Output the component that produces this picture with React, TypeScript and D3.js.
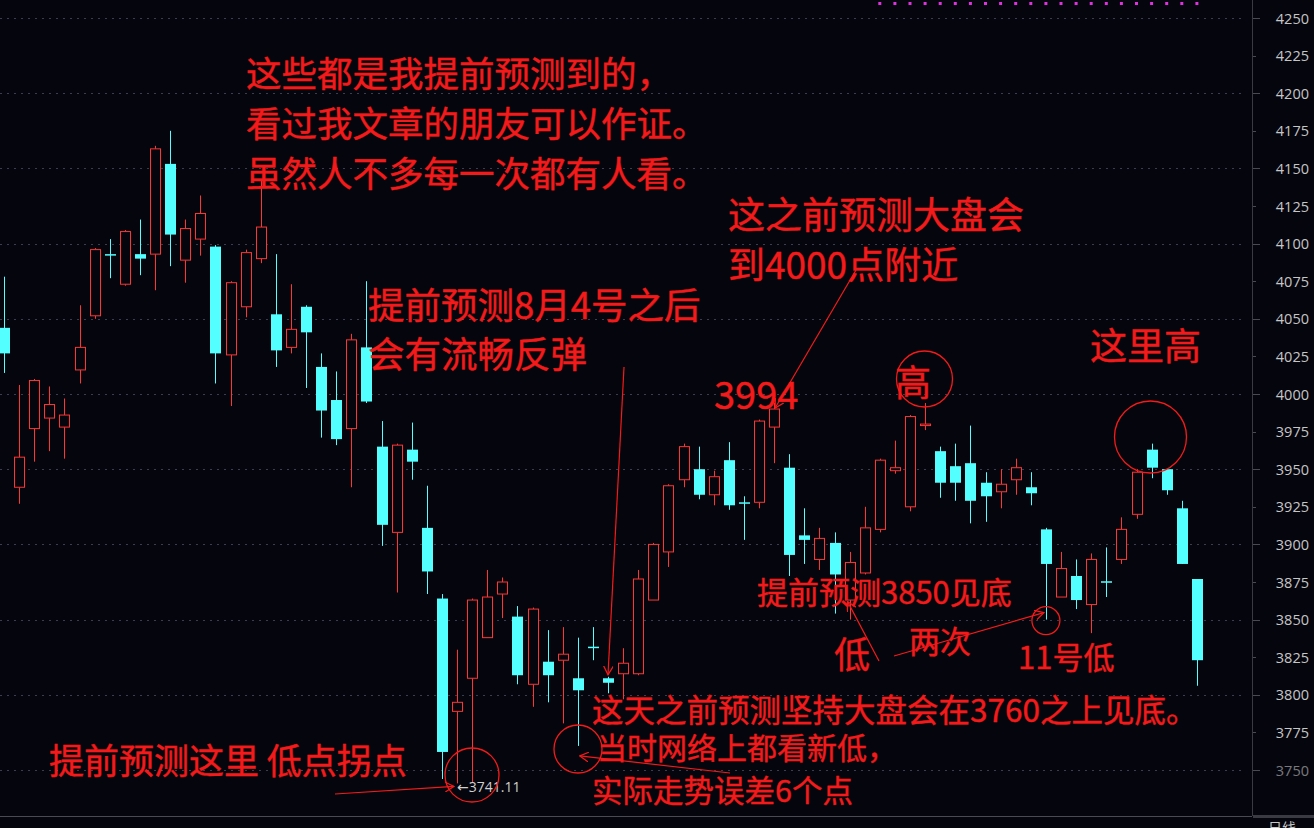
import React from "react";
import * as d3 from "d3";

// ---- data ----
const opens = [4044, 3938, 3977, 3984, 3978, 4016, 4052, 4093, 4073, 4093, 4093, 4153, 4089, 4103, 4098, 4026, 4058, 4090, 4053, 4031,
  4058, 4018, 3996, 3977, 4031, 3965, 3908, 3963, 3911, 3864, 3789, 3811, 3838, 3867, 3852, 3807, 3822, 3823, 3811, 3832,
  3811, 3814, 3814, 3863, 3895, 3943, 3950, 3933, 3956, 3928, 3928, 3978, 3951, 3906, 3890, 3901, 3863, 3881, 3910, 3949,
  3925, 3979, 3962, 3952, 3954, 3941, 3935, 3943, 3938, 3910, 3865, 3879, 3860, 3875.5, 3890, 3920, 3963, 3950, 3924, 3877];
const highs = [4078, 4006, 4010, 4005, 3997, 4059, 4097, 4103, 4109, 4116, 4165, 4175, 4116, 4132, 4099, 4075, 4096, 4142, 4093, 4073,
  4059, 4027, 4015, 4040, 4075, 3982, 3967, 3981, 3939, 3867, 3830, 3864, 3883, 3878, 3859, 3858, 3843, 3845, 3838, 3845,
  3812, 3831, 3883, 3901, 3940, 3967, 3965, 3949, 3968, 3932, 3983, 3994, 3960, 3924, 3911, 3908, 3895, 3925, 3957, 3969,
  3986, 3994, 3965, 3967, 3979, 3948, 3950, 3957, 3948, 3911, 3895, 3890, 3894, 3898, 3918, 3950, 3967, 3950, 3929, 3877];
const lows = [4014, 3927, 3955, 3962, 3957, 4007, 4050, 4077, 4072, 4079, 4069, 4085, 4074, 4092, 4007, 3992, 4051, 4087, 4018, 4027,
  4004, 3971, 3966, 3938, 3994, 3899, 3868, 3943, 3867, 3744, 3741.11, 3742, 3838, 3851, 3807, 3792, 3795, 3781, 3766, 3823,
  3801, 3797, 3813, 3863, 3885, 3938, 3930, 3926, 3923, 3903, 3924, 3954, 3879, 3887, 3883, 3854, 3850, 3880, 3908, 3947,
  3922, 3976, 3931, 3929, 3914, 3915, 3924, 3933, 3926, 3850, 3865, 3857, 3841, 3865, 3887, 3917, 3944, 3933, 3887, 3806];
const closes = [4027, 3958, 4009, 3993, 3986, 4031, 4096, 4092, 4108, 4090, 4163, 4106, 4110, 4120, 4027, 4074, 4094, 4111, 4029, 4043,
  4041, 3989, 3970, 4036, 3995, 3913, 3966, 3955, 3882, 3762, 3795, 3863, 3865, 3875, 3813, 3857, 3813, 3827, 3803, 3831,
  3808, 3821, 3877, 3900, 3939, 3965, 3933, 3945, 3926, 3927, 3982, 3990, 3893, 3903, 3904, 3880, 3888, 3911, 3956, 3951,
  3985, 3980, 3941, 3941, 3929, 3932, 3940, 3951, 3934, 3887, 3884, 3863, 3890, 3875, 3910, 3948, 3951, 3936, 3887, 3823];
const candleIdx = opens.map((_, i) => i);
const tickValues = [3750, 3775, 3800, 3825, 3850, 3875, 3900, 3925, 3950, 3975, 4000, 4025, 4050, 4075, 4100, 4125, 4150, 4175, 4200, 4225, 4250];
const topMarkerIdx = [58, 59, 60, 61, 62, 63, 64, 65, 66, 67, 68, 69, 70, 71, 72, 73, 74, 75, 76, 77, 78, 79];
const lowLabel = "3741.11";

const W = 1314;
const H = 828;
const BG = "#05050d";
const UP = "#ff3535";
const DOWN = "#54ffff";
const ANN = "#f51a1a";
const FONT_CJK = "'Noto Sans CJK SC', 'Noto Sans', sans-serif";

export default function App() {
  const step = 15.1;
  const x = d3.scaleBand<number>().domain(candleIdx).range([-3.55, -3.55 + step * candleIdx.length]).padding(0);
  const cx = (i: number) => (x(i) as number) + x.bandwidth() / 2;
  const y = d3.scaleLinear().domain([3750, 4250]).range([770, 18]);
  const bodyW = 10;
  const axisX = 1252;

  const Arrow = ({ x1, y1, x2, y2 }: { x1: number; y1: number; x2: number; y2: number }) => (
    <line x1={x1} y1={y1} x2={x2} y2={y2} stroke={ANN} strokeWidth={1.2} markerEnd="url(#ah)" />
  );
  const T = ({ x0, y0, size, children }: { x0: number; y0: number; size: number; children: React.ReactNode }) => (
    <text x={x0} y={y0} fontSize={size} fill={ANN} fontFamily={FONT_CJK} dominantBaseline="central"
      stroke={ANN} strokeWidth={0.4}>
      {children}
    </text>
  );

  return (
    <svg width={W} height={H} style={{ position: "absolute", left: 0, top: 0 }} xmlns="http://www.w3.org/2000/svg">
      <defs>
        <marker id="ah" viewBox="0 0 10 10" refX="9" refY="5" markerWidth="10" markerHeight="10" orient="auto" markerUnits="userSpaceOnUse">
          <path d="M0,0 L9,5 L0,10" fill="none" stroke={ANN} strokeWidth={1.3} />
        </marker>
      </defs>
      <rect x={0} y={0} width={W} height={H} fill={BG} />

      {/* grid */}
      {tickValues.filter((t) => t % 50 === 0).map((t) => (
        <line key={"g" + t} x1={0} x2={axisX - 6} y1={Math.round(y(t)) + 0.5} y2={Math.round(y(t)) + 0.5}
          stroke="#3c3c4c" strokeWidth={1} strokeDasharray="2,5" />
      ))}

      {/* top markers */}
      {topMarkerIdx.map((i) => (
        <rect key={"m" + i} x={cx(i) - 1.5} y={2} width={3} height={3} fill="#e030e0" />
      ))}

      {/* candles */}
      {candleIdx.map((i) => {
        const o = opens[i], c = closes[i], h = highs[i], l = lows[i];
        const up = c >= o;
        const xc = Math.round(cx(i)) + 0.5;
        const top = y(Math.max(o, c));
        const bot = y(Math.min(o, c));
        const bh = Math.max(bot - top, 1.5);
        if (up) {
          return (
            <g key={i}>
              <line x1={xc} x2={xc} y1={y(h)} y2={top} stroke={UP} strokeWidth={1} />
              <line x1={xc} x2={xc} y1={top + bh} y2={y(l)} stroke={UP} strokeWidth={1} />
              <rect x={xc - bodyW / 2} y={top} width={bodyW} height={bh} fill={BG} stroke={UP} strokeWidth={1} />
            </g>
          );
        }
        return (
          <g key={i}>
            <line x1={xc} x2={xc} y1={y(h)} y2={y(l)} stroke={DOWN} strokeWidth={1} />
            <rect x={xc - bodyW / 2 - 0.5} y={top} width={bodyW + 1} height={bh} fill={DOWN} />
          </g>
        );
      })}

      {/* right axis */}
      <line x1={axisX + 0.5} x2={axisX + 0.5} y1={0} y2={816} stroke="#3a3a44" strokeWidth={1} />
      {tickValues.map((t) => (
        <g key={"t" + t}>
          <line x1={axisX + 1} x2={axisX + (t % 50 === 0 ? 8 : 4)} y1={Math.round(y(t)) + 0.5} y2={Math.round(y(t)) + 0.5}
            stroke="#4a4a55" strokeWidth={1} />
          <text x={1309} y={y(t)} textAnchor="end" dominantBaseline="central" fontSize={14.5}
            fontFamily="'Open Sans', 'DejaVu Sans', sans-serif" fill="#c6c6c6" opacity={t === 3750 ? 0.6 : 1}>
            {t}
          </text>
        </g>
      ))}
      <line x1={0} x2={axisX} y1={816.5} y2={816.5} stroke="#4a4a52" strokeWidth={1} />
      <rect x={axisX + 1} y={815} width={W - axisX} height={3} fill="#3a3a42" />
      <text x={1268} y={833} fontSize={14} fill="#c6c6c6" fontFamily={FONT_CJK}>日线</text>

      {/* low label */}
      <text x={cx(30)} y={y(lows[30]) + 3} fontSize={14} fill="#d0d0d0" fontFamily="'Open Sans', 'DejaVu Sans', sans-serif" dominantBaseline="central">
        ←{lowLabel}
      </text>

      {/* annotations */}
      <T x0={246} y0={71} size={35.5}>这些都是我提前预测到的，</T>
      <T x0={246} y0={121} size={35.5}>看过我文章的朋友可以作证。</T>
      <T x0={246} y0={171} size={35.5}>虽然人不多每一次都有人看。</T>

      <T x0={728} y0={213} size={37}>这之前预测大盘会</T>
      <T x0={728} y0={263} size={37}>到4000点附近</T>
      <T x0={714} y0={392} size={38}>3994</T>
      <Arrow x1={856} y1={270} x2={cx(51) + 1} y2={y(highs[51]) + 5} />

      <T x0={368} y0={303} size={36.5}>提前预测8月4号之后</T>
      <T x0={368} y0={352} size={36.5}>会有流畅反弹</T>
      <Arrow x1={624} y1={367} x2={cx(40)} y2={y(highs[40]) - 2} />

      <T x0={895} y0={380} size={36}>高</T>
      <circle cx={924.5} cy={379} r={28} fill="none" stroke={ANN} strokeWidth={1.3} />

      <T x0={1090} y0={344} size={37}>这里高</T>
      <circle cx={1150.5} cy={437} r={36} fill="none" stroke={ANN} strokeWidth={1.3} />

      <T x0={757} y0={590} size={31}>提前预测3850见底</T>
      <T x0={834} y0={652} size={36}>低</T>
      <Arrow x1={879} y1={661} x2={cx(56) - 2} y2={y(lows[56]) - 18} />
      <T x0={909} y0={639} size={31}>两次</T>
      <Arrow x1={894} y1={656} x2={cx(69) - 2} y2={y(lows[69]) - 7} />
      <circle cx={cx(69)} cy={y(lows[69]) + 1} r={14} fill="none" stroke={ANN} strokeWidth={1.3} />
      <T x0={1018} y0={655} size={31}>11号低</T>

      <T x0={592} y0={708} size={31.5}>这天之前预测坚持大盘会在3760之上见底。</T>
      <T x0={597} y0={746} size={30}>当时网络上都看新低，</T>
      <T x0={592} y0={789} size={30.5}>实际走势误差6个点</T>
      <circle cx={578} cy={749} r={24} fill="none" stroke={ANN} strokeWidth={1.3} />
      <Arrow x1={730} y1={773} x2={cx(38) + 2} y2={y(lows[38]) + 10} />

      <T x0={49} y0={758} size={35}>提前预测这里 低点拐点</T>
      <circle cx={472} cy={775} r={27} fill="none" stroke={ANN} strokeWidth={1.3} />
      <Arrow x1={335} y1={794} x2={cx(30) - 3} y2={y(lows[30]) + 3} />
    </svg>
  );
}
